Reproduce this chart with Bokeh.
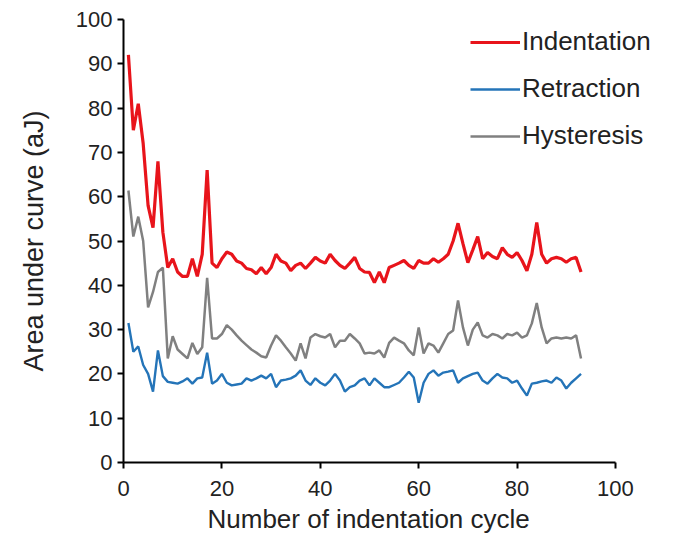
from bokeh.plotting import figure
from bokeh.models import Range1d, Legend, LegendItem, FixedTicker, Title
from bokeh.embed import file_html
from bokeh.resources import INLINE

cycles = list(range(1, 94))

indentation = [92, 75, 81, 72, 58, 53, 68, 52, 44, 46,
               43, 42, 42, 46, 42, 47, 66, 45, 44, 46,
               47.5, 47, 45.5, 45, 43.8, 43.5, 42.6, 44, 42.6, 44,
               47, 45.5, 45, 43.3, 44.5, 45, 43.8, 45, 46.3, 45.5,
               45, 47, 45.6, 44.5, 43.8, 45, 46.3, 43.8, 43, 42.9,
               40.6, 43, 40.6, 44, 44.5, 45, 45.6, 44.5, 43.8, 45.6,
               45, 45, 46, 45.2, 46, 47, 50, 54, 49.4, 45.1,
               48, 51, 46, 47.4, 46.5, 46, 48.5, 47, 46.3, 47.4,
               45.6, 43.3, 47, 54.2, 47, 45, 46, 46.3, 46, 45.2,
               46, 46.3, 43]

retraction = [31.5, 25, 26.2, 22, 20, 16, 25.3, 19.5, 18.2, 18,
              17.8, 18.3, 19, 17.8, 19, 19.2, 24.8, 17.8, 18.5, 20,
              18, 17.4, 17.6, 17.8, 19, 18.5, 19, 19.6, 19, 20,
              17, 18.5, 18.7, 19, 19.6, 20.8, 18.5, 17.5, 19, 18,
              17.4, 18.5, 20, 18.5, 16, 17, 17.4, 18.5, 19, 17.4,
              19, 18, 17, 17, 17.5, 18, 19.2, 20.5, 19.2, 13.5,
              18, 20, 20.8, 19.6, 20.3, 20.5, 20.8, 18, 19, 19.5,
              20, 20.3, 18.5, 17.8, 19, 20, 19.2, 19, 18, 18.5,
              16.7, 15.1, 17.8, 18, 18.3, 18.5, 18, 19.2, 18.5, 16.7,
              18, 19, 20]

hysteresis = [61.4, 51, 55.5, 50, 35, 38.5, 43, 44, 23.5, 28.5,
              25.5, 24.5, 23.5, 27, 24.5, 26, 41.7, 28, 28, 29,
              31, 30, 28.7, 27.5, 26.5, 25.5, 24.8, 24, 23.7, 26.4,
              28.7, 27.5, 26, 24.6, 23, 26.9, 23.5, 28.2, 29, 28.5,
              28.2, 29, 26, 27.5, 27.5, 29, 28, 26.9, 24.6, 24.8,
              24.6, 25.3, 23.7, 27, 28.2, 27.5, 26.9, 25.3, 24.2, 30.5,
              24.6, 26.9, 26.4, 24.8, 26.9, 29, 29.8, 36.6, 30.5, 26.4,
              30, 31.6, 28.7, 28.2, 29, 28.7, 28, 29, 28.7, 29.3,
              28.2, 28.7, 31.4, 36, 30.5, 26.9, 28, 28.2, 28, 28.2,
              28, 28.7, 23.5]

x_ticks = [0, 20, 40, 60, 80, 100]
y_ticks = [0, 10, 20, 30, 40, 50, 60, 70, 80, 90, 100]

FONT = "Liberation Sans"

# x range extends past 100 only to leave room for the legend; axis drawn 0..100
p = figure(width=677, height=540, output_backend="svg", toolbar_location=None,
           x_range=Range1d(0, 112), y_range=Range1d(0, 100),
           min_border_left=123, min_border_right=3, min_border_top=19,
           min_border_bottom=78)
p.outline_line_color = None
p.grid.visible = False
p.background_fill_color = "white"

r_ind = p.line(cycles, indentation, line_color="#E8141B", line_width=3.2)
r_ret = p.line(cycles, retraction, line_color="#2474B8", line_width=2.4)
r_hys = p.line(cycles, hysteresis, line_color="#808080", line_width=2.5)

for ax, ticks in ((p.xaxis[0], x_ticks), (p.yaxis[0], y_ticks)):
    ax.ticker = FixedTicker(ticks=ticks)
    ax.minor_tick_line_color = None
    ax.major_tick_in = 0
    ax.major_tick_out = 6
    ax.axis_line_width = 2
    ax.axis_line_color = "black"
    ax.major_tick_line_width = 2
    ax.major_tick_line_color = "black"
    ax.major_label_text_font = FONT
    ax.major_label_text_font_size = "22px"
    ax.major_label_text_color = "#222222"
    ax.axis_label_text_font = FONT
    ax.axis_label_text_font_style = "normal"
    ax.axis_label_text_color = "#222222"

p.xaxis.bounds = (0, 100)
p.xaxis.major_label_standoff = 12
p.yaxis.axis_label = "Area under curve (aJ)"
p.yaxis.axis_label_text_font_size = "27px"
p.yaxis.major_label_standoff = 5
p.yaxis.axis_label_standoff = 24

# x-axis title, centred under the 0..100 part of the axis
p.add_layout(Title(text="Number of indentation cycle", align="left", offset=84,
                   standoff=7, text_font=FONT, text_font_size="26px",
                   text_font_style="normal", text_color="#222222"), "below")

legend = Legend(items=[LegendItem(label="Indentation", renderers=[r_ind]),
                       LegendItem(label="Retraction", renderers=[r_ret]),
                       LegendItem(label="Hysteresis", renderers=[r_hys])],
                location=(347, 311), orientation="vertical",
                glyph_width=50, glyph_height=30, label_height=30,
                label_standoff=2, spacing=16, padding=0, margin=0,
                border_line_color=None, background_fill_alpha=0,
                label_text_font=FONT, label_text_font_size="26px",
                label_text_color="#222222")
p.add_layout(legend)

open("out.html", "w").write(file_html(p, INLINE))
